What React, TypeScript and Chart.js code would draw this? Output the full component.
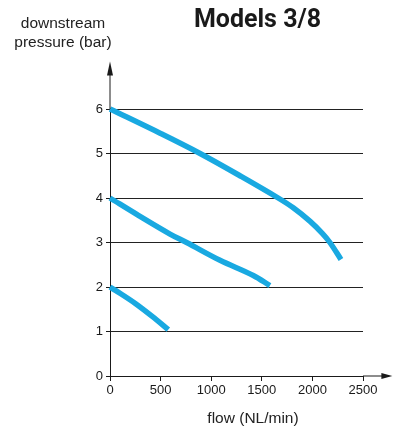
import React, { useEffect, useRef } from "react";
import { Chart, registerables } from "chart.js";

Chart.register(...registerables);

// Data
const flow6 = [0, 500, 890, 1300, 1662, 1811, 1975, 2100, 2173, 2282];
const pressure6 = [6, 5.45, 5.0, 4.48, 4.0, 3.78, 3.48, 3.2, 3.0, 2.62];

const flow4 = [0, 280, 593, 757, 1087, 1416, 1580];
const pressure4 = [4, 3.61, 3.19, 3.0, 2.6, 2.26, 2.03];

const flow2 = [0, 50, 250, 445, 576];
const pressure2 = [2, 1.93, 1.63, 1.29, 1.04];

const xTicks = [0, 500, 1000, 1500, 2000, 2500];
const yTicks = [0, 1, 2, 3, 4, 5, 6];

const titleText = "Models 3/8";
const yLabelLines = ["downstream", "pressure (bar)"];
const xLabelText = "flow (NL/min)";

const LINE_COLOR = "#19A9E1";
const INK = "#1a1a1a";
const TICK_FONT = "'Liberation Sans', Arial, sans-serif";

const toPoints = (xs: number[], ys: number[]) => xs.map((x, i) => ({ x, y: ys[i] }));

const arrowsPlugin = {
  id: "axisArrows",
  afterDraw(chart: any) {
    const { ctx, chartArea } = chart;
    const xs = chart.scales.x;
    const ys = chart.scales.y;
    const x0 = xs.getPixelForValue(0);
    const y0 = ys.getPixelForValue(0);
    const tipX = xs.getPixelForValue(2790);
    const tipY = ys.getPixelForValue(7.07);
    ctx.save();
    ctx.strokeStyle = INK;
    ctx.fillStyle = INK;
    ctx.lineWidth = 1;
    // x-axis extension
    ctx.beginPath();
    ctx.moveTo(chartArea.right, y0);
    ctx.lineTo(tipX - 8, y0);
    ctx.stroke();
    ctx.beginPath();
    ctx.moveTo(tipX, y0);
    ctx.lineTo(tipX - 11, y0 - 3);
    ctx.lineTo(tipX - 11, y0 + 3);
    ctx.closePath();
    ctx.fill();
    // y-axis extension
    ctx.beginPath();
    ctx.moveTo(x0, chartArea.top);
    ctx.lineTo(x0, tipY + 8);
    ctx.stroke();
    ctx.beginPath();
    ctx.moveTo(x0, tipY);
    ctx.lineTo(x0 - 3, tipY + 14);
    ctx.lineTo(x0 + 3, tipY + 14);
    ctx.closePath();
    ctx.fill();
    ctx.restore();
  },
};

const textPlugin = {
  id: "chartTexts",
  afterDraw(chart: any) {
    const { ctx } = chart;
    ctx.save();
    ctx.fillStyle = INK;
    ctx.textAlign = "center";
    ctx.textBaseline = "alphabetic";
    ctx.font = "bold 25px Roboto, 'DejaVu Sans', sans-serif";
    ctx.fillText(titleText, 257.5, 27);
    ctx.font = "15.5px 'Liberation Sans', Arial, sans-serif";
    ctx.fillStyle = "#222";
    ctx.fillText(yLabelLines[0], 63, 28);
    ctx.fillText(yLabelLines[1], 63, 47);
    ctx.fillText(xLabelText, 253, 423);
    ctx.restore();
  },
};

export default function App() {
  const canvasRef = useRef<HTMLCanvasElement | null>(null);

  useEffect(() => {
    if (!canvasRef.current) return;
    const lineStyle = {
      borderColor: LINE_COLOR,
      backgroundColor: LINE_COLOR,
      borderWidth: 5.5,
      pointRadius: 0,
      fill: false,
      tension: 0.35,
      clip: false as any,
      borderCapStyle: "butt" as const,
    };
    const chart = new Chart(canvasRef.current, {
      type: "line",
      data: {
        datasets: [
          { label: "6 bar", data: toPoints(flow6, pressure6), ...lineStyle },
          { label: "4 bar", data: toPoints(flow4, pressure4), ...lineStyle },
          { label: "2 bar", data: toPoints(flow2, pressure2), ...lineStyle },
        ],
      },
      options: {
        responsive: false,
        animation: false,
        devicePixelRatio: 1,
        layout: { padding: { left: 70, right: 36, top: 109, bottom: 24 } },
        plugins: {
          legend: { display: false },
          tooltip: { enabled: false },
          title: { display: false },
        },
        scales: {
          x: {
            type: "linear",
            min: 0,
            max: 2500,
            afterFit: (s: any) => {
              s.height = 30;
            },
            afterBuildTicks: (s: any) => {
              s.ticks = xTicks.map((v) => ({ value: v }));
            },
            ticks: {
              color: INK,
              font: { family: TICK_FONT, size: 13 },
              padding: 2,
              maxRotation: 0,
              autoSkip: false,
              callback: (v: any) => String(v),
            },
            grid: {
              drawOnChartArea: false,
              drawTicks: true,
              tickLength: 5,
              color: INK,
              tickColor: INK,
            },
            border: { display: true, color: INK, width: 1 },
          },
          y: {
            type: "linear",
            min: 0,
            max: 6,
            afterFit: (s: any) => {
              s.width = 40;
            },
            afterBuildTicks: (s: any) => {
              s.ticks = yTicks.map((v) => ({ value: v }));
            },
            ticks: {
              color: INK,
              font: { family: TICK_FONT, size: 13 },
              padding: 3,
              autoSkip: false,
              callback: (v: any) => String(v),
            },
            grid: {
              drawTicks: true,
              tickLength: 4,
              lineWidth: 1,
              color: (c: any) => (c.tick && c.tick.value === 0 ? "rgba(0,0,0,0)" : "#222"),
              tickColor: INK,
            },
            border: { display: true, color: INK, width: 1 },
          },
        },
      },
      plugins: [arrowsPlugin, textPlugin],
    });
    return () => chart.destroy();
  }, []);

  return (
    <div style={{ position: "absolute", left: 0, top: 0, width: 399, height: 430, background: "#fff" }}>
      <canvas ref={canvasRef} width={399} height={430} style={{ display: "block" }} />
    </div>
  );
}
